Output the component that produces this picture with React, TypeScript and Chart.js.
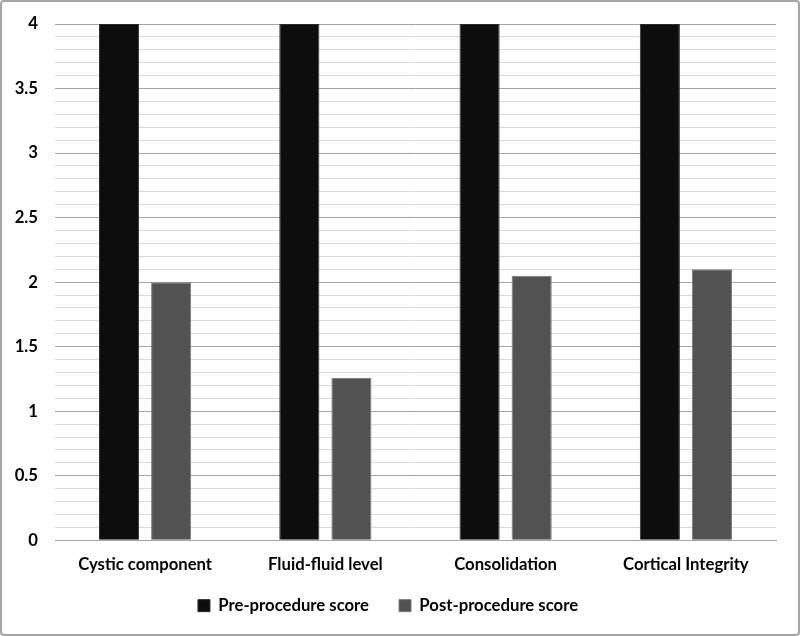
import React, { useEffect, useRef } from "react";
import { Chart, registerables } from "chart.js";

Chart.register(...registerables);

const categories = ["Cystic component", "Fluid-fluid level", "Consolidation", "Cortical Integrity"];
const preScores = [4, 4, 4, 4];
const postScores = [2.0, 1.26, 2.05, 2.1];
const seriesLabels = ["Pre-procedure score", "Post-procedure score"];

const FONT = { family: "Lato", size: 16.7, weight: "bold" as const };

const legendShift = {
  id: "legendShift",
  afterLayout(chart: any) {
    const lg = chart.legend;
    if (lg) {
      lg.top -= 21;
      lg.bottom -= 21;
    }
  },
};

export default function App() {
  const ref = useRef<HTMLCanvasElement | null>(null);
  useEffect(() => {
    document.body.style.margin = "0";
    const ctx = ref.current!;
    const chart = new Chart(ctx, {
      type: "bar",
      data: {
        labels: categories,
        datasets: [
          {
            label: seriesLabels[0],
            data: preScores,
            backgroundColor: "#0d0d0d",
            borderColor: "#2a2a2a",
            borderWidth: 1,
            categoryPercentage: 0.578,
            barPercentage: 0.77,
          },
          {
            label: seriesLabels[1],
            data: postScores,
            backgroundColor: "#525252",
            borderColor: "#7a7a7a",
            borderWidth: 1,
            categoryPercentage: 0.578,
            barPercentage: 0.77,
          },
        ],
      },
      plugins: [legendShift],
      options: {
        responsive: false,
        animation: false,
        layout: { padding: { left: 0, right: 24, top: 24, bottom: -9 } },
        plugins: {
          tooltip: { enabled: false },
          legend: {
            position: "bottom",
            labels: {
              boxWidth: 12,
              boxHeight: 12,
              padding: 30,
              color: "#000",
              font: FONT,
            },
          },
        },
        scales: {
          x: {
            grid: { display: false, drawTicks: false },
            border: { display: true, color: "#a6a6a6", width: 1 },
            ticks: { color: "#000", padding: 14, font: FONT },
          },
          y: {
            min: 0,
            max: 4,
            afterFit: (s: any) => {
              s.width = 55;
              s.paddingTop = 0;
              s.paddingBottom = 0;
            },
            border: { display: false },
            grid: {
              drawTicks: false,
              color: (c: any) => {
                const v = Math.round(c.tick.value * 10);
                return v % 5 === 0 ? "#a6a6a6" : "#d9d9d9";
              },
              lineWidth: 1,
            },
            ticks: {
              stepSize: 0.1,
              autoSkip: false,
              padding: 17,
              color: "#000",
              font: FONT,
              callback: (v: any) => {
                const n = Math.round(Number(v) * 10);
                return n % 5 === 0 ? String(n / 10) : "";
              },
            },
          },
        },
      },
    });
    return () => chart.destroy();
  }, []);
  return (
    <div
      style={{
        width: 800,
        height: 636,
        boxSizing: "border-box",
        border: "2px solid #a6a6a6",
        borderRadius: 4,
        overflow: "hidden",
        position: "relative",
        background: "#fff",
      }}
    >
      <canvas ref={ref} width={800} height={636} style={{ position: "absolute", left: -2, top: -2 }} />
    </div>
  );
}
